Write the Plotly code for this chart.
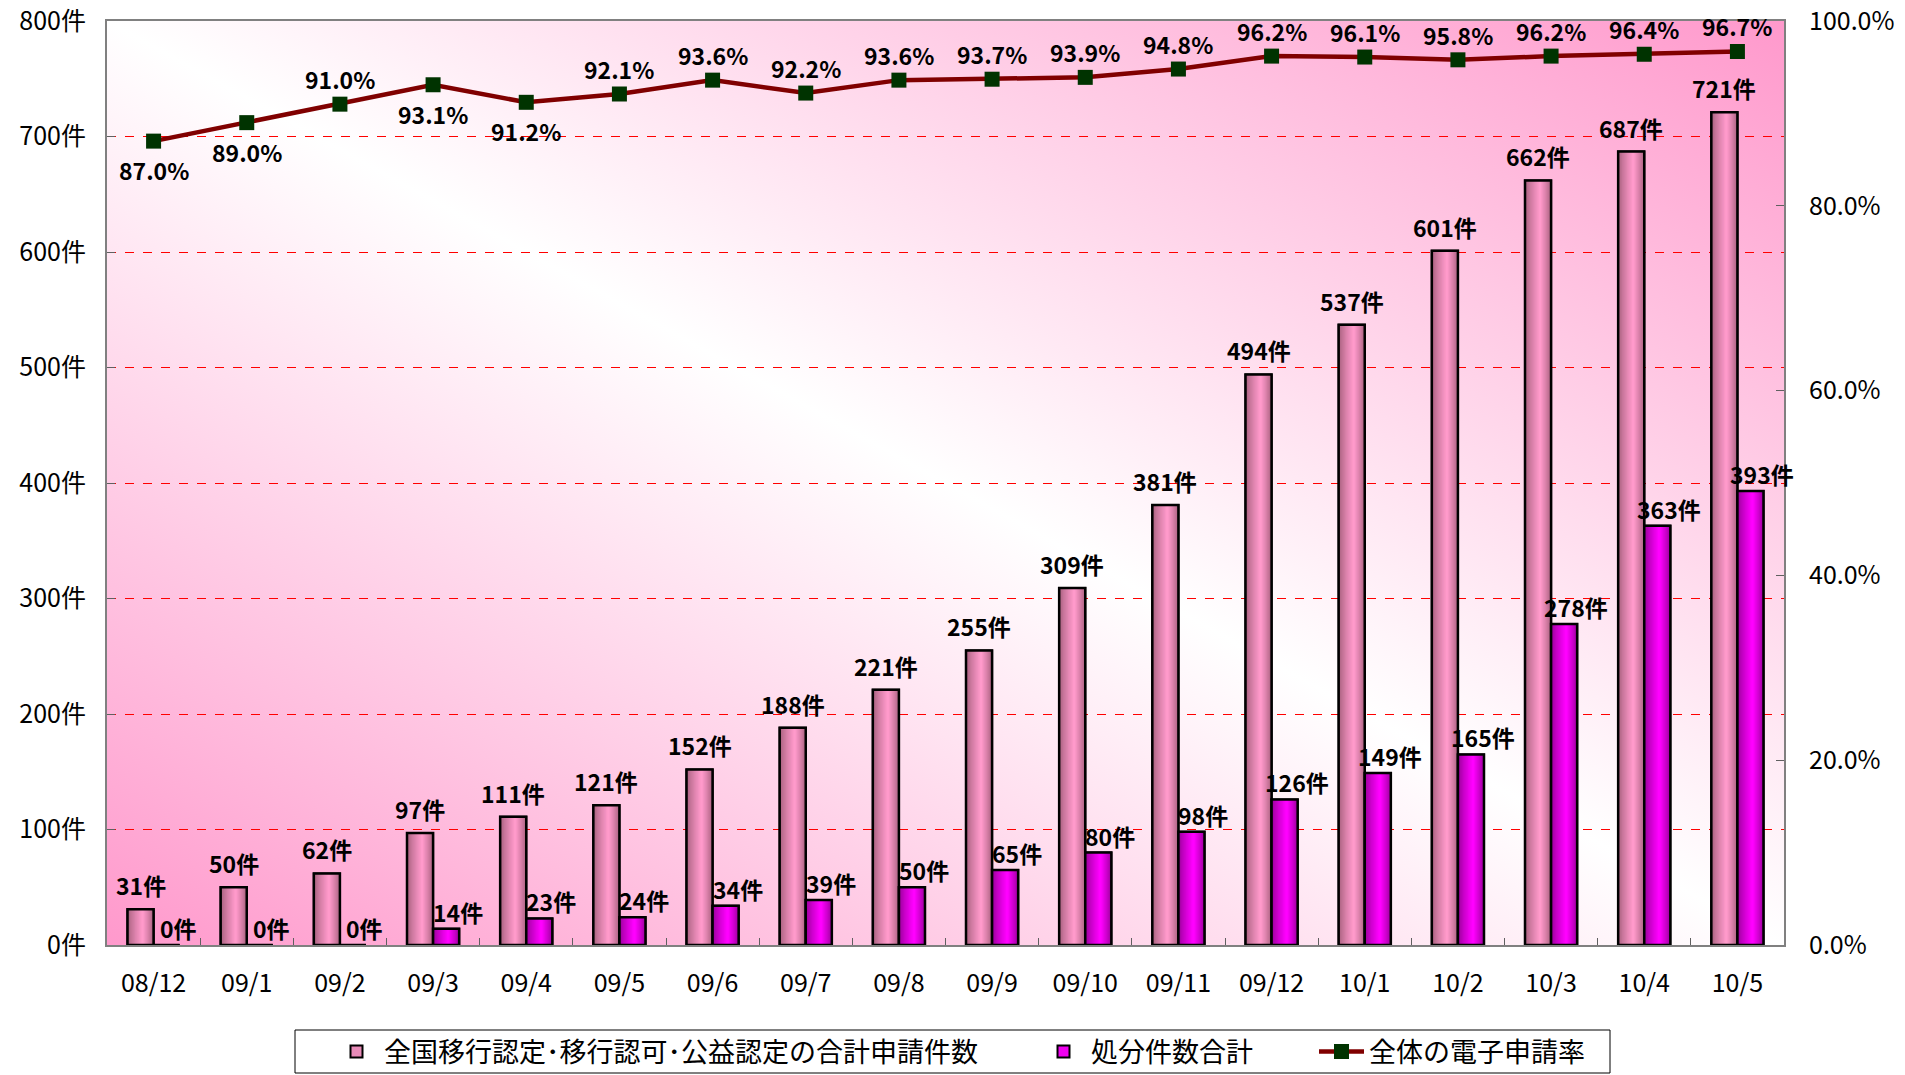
import base64
import plotly.graph_objects as go

# ---------------- data ----------------
categories = ["08/12", "09/1", "09/2", "09/3", "09/4", "09/5", "09/6", "09/7", "09/8",
              "09/9", "09/10", "09/11", "09/12", "10/1", "10/2", "10/3", "10/4", "10/5"]
applications = [31, 50, 62, 97, 111, 121, 152, 188, 221, 255, 309, 381, 494, 537, 601, 662, 687, 721]
dispositions = [0, 0, 0, 14, 23, 24, 34, 39, 50, 65, 80, 98, 126, 149, 165, 278, 363, 393]
e_rate_pct = [87.0, 89.0, 91.0, 93.1, 91.2, 92.1, 93.6, 92.2, 93.6, 93.7, 93.9, 94.8,
              96.2, 96.1, 95.8, 96.2, 96.4, 96.7]
rate_label_side = ["bottom", "bottom", "top", "bottom", "bottom"] + ["top"] * 13

name1 = "全国移行認定･移行認可･公益認定の合計申請件数"
name2 = "処分件数合計"
name3 = "全体の電子申請率"

FONT = "Noto Sans CJK JP, Noto Sans, sans-serif"
W = 0.28          # bar width in category units
N_LAYERS = 12     # layers used to imitate the cylinder shading
LABEL_SIZE = 23
TICK_SIZE = 25

FIG_W, FIG_H = 1905, 1075
M_L, M_R, M_T, M_B = 107, 121, 21, 130
PLOT_W = FIG_W - M_L - M_R
PLOT_H = FIG_H - M_T - M_B


def px_x(px):
    return (px - M_L) / PLOT_W


def px_y(py):
    return (FIG_H - M_B - py) / PLOT_H


def hex2rgb(h):
    h = h.lstrip("#")
    return tuple(int(h[i:i + 2], 16) for i in (0, 2, 4))


def lerp(c1, c2, t):
    a, b = hex2rgb(c1), hex2rgb(c2)
    return "rgb(%d,%d,%d)" % tuple(round(a[i] + (b[i] - a[i]) * t) for i in range(3))


fig = go.Figure()


def shaded_bars(values, left_off, edge, center, legend_color, name, legend_id):
    fig.add_trace(go.Bar(
        x=categories, y=values, name=name, offset=left_off, width=W,
        marker=dict(color=legend_color, line=dict(color="black", width=2)),
        showlegend=True, legend=legend_id, legendgroup=name, hoverinfo="skip"))
    peak = 0.58
    for k in range(N_LAYERS):
        t = k / N_LAYERS
        left = left_off + t * peak * W
        right = left_off + W - t * (1 - peak) * W
        col = lerp(edge, center, (k / (N_LAYERS - 1)) ** 0.8)
        fig.add_trace(go.Bar(
            x=categories, y=values, offset=left, width=right - left,
            marker=dict(color=col, line=dict(width=0)),
            showlegend=False, legendgroup=name, hoverinfo="skip"))
    fig.add_trace(go.Bar(
        x=categories, y=values, offset=left_off, width=W,
        marker=dict(color="rgba(0,0,0,0)", line=dict(color="black", width=2.5)),
        showlegend=False, legendgroup=name, hoverinfo="skip"))


shaded_bars(applications, -W, "#A8607F", "#FF9ACB", "#E88BB8", name1, "legend")
shaded_bars(dispositions, 0.0, "#9A009A", "#FF00FF", "#F000F0", name2, "legend2")

rates = [v / 100 for v in e_rate_pct]
fig.add_trace(go.Scatter(
    x=categories, y=rates, yaxis="y2", name=name3, legend="legend3",
    mode="lines+markers",
    line=dict(color="#800000", width=4.5),
    marker=dict(symbol="square", size=15, color="#003300", line=dict(color="#003300", width=0)),
    cliponaxis=False, hoverinfo="skip"))

label_font = dict(family=FONT, size=LABEL_SIZE, color="black", weight="bold")
annotations = []
for i, v in enumerate(applications):
    annotations.append(dict(x=i - W / 2, y=v, xref="x", yref="y", text="%d件" % v,
                            showarrow=False, yanchor="bottom", yshift=5, font=label_font))
for i, v in enumerate(dispositions):
    annotations.append(dict(x=i + W / 2, y=v, xref="x", yref="y", text="%d件" % v,
                            showarrow=False, yanchor="bottom", yshift=-2, xshift=12,
                            font=label_font))
for i, (v, side) in enumerate(zip(rates, rate_label_side)):
    annotations.append(dict(x=i, y=v, xref="x", yref="y2", text="%.1f%%" % (v * 100),
                            showarrow=False,
                            yanchor="bottom" if side == "top" else "top",
                            yshift=6 if side == "top" else -10,
                            font=label_font))

svg = ("<svg xmlns='http://www.w3.org/2000/svg' width='100' height='100' viewBox='0 0 100 100' "
       "preserveAspectRatio='none'><defs><linearGradient id='g' x1='0' y1='1' x2='1' y2='0'>"
       "<stop offset='0' stop-color='#FF99CC'/><stop offset='0.5' stop-color='#FFFFFF'/>"
       "<stop offset='1' stop-color='#FF99CC'/></linearGradient></defs>"
       "<rect width='100' height='100' fill='url(#g)'/></svg>")
bg_src = "data:image/svg+xml;base64," + base64.b64encode(svg.encode()).decode()

legend_common = dict(orientation="h", yanchor="middle", y=px_y(1052), xanchor="left",
                     bgcolor="rgba(0,0,0,0)", borderwidth=0,
                     font=dict(family=FONT, size=27), itemwidth=45)

fig.update_layout(
    width=FIG_W, height=FIG_H,
    margin=dict(l=M_L, r=M_R, t=M_T, b=M_B, autoexpand=False),
    paper_bgcolor="white", plot_bgcolor="white",
    barmode="overlay",
    font=dict(family=FONT, size=24, color="black"),
    images=[dict(source=bg_src, xref="paper", yref="paper", x=0, y=1, sizex=1, sizey=1,
                 xanchor="left", yanchor="top", sizing="stretch", layer="below")],
    shapes=[dict(type="rect", xref="paper", yref="paper",
                 x0=px_x(295), x1=px_x(1610), y0=px_y(1073), y1=px_y(1030),
                 line=dict(color="black", width=1), fillcolor="white", layer="below")],
    xaxis=dict(type="category", range=[-0.5, len(categories) - 0.5], automargin=False,
               showline=True, linecolor="#808080", linewidth=2, mirror=True,
               ticks="inside", tickson="boundaries", ticklen=7, tickcolor="#606060",
               tickfont=dict(family=FONT, size=TICK_SIZE), ticklabelstandoff=15,
               ticklabeloverflow="allow",
               showgrid=False, zeroline=False),
    yaxis=dict(range=[0, 800], dtick=100, ticksuffix="件", automargin=False,
               showline=True, linecolor="#808080", linewidth=2,
               ticks="inside", ticklen=8, tickcolor="#606060",
               tickfont=dict(family=FONT, size=TICK_SIZE), ticklabelstandoff=14,
               ticklabeloverflow="allow",
               showgrid=True, gridcolor="#FF0000", gridwidth=1, griddash="dash",
               zeroline=False),
    yaxis2=dict(range=[0, 1], dtick=0.2, tickformat=".1%", overlaying="y", side="right",
                automargin=False,
                showline=True, linecolor="#808080", linewidth=2,
                ticks="inside", ticklen=8, tickcolor="#606060",
                tickfont=dict(family=FONT, size=TICK_SIZE), ticklabelstandoff=18,
                ticklabeloverflow="allow",
                showgrid=False, zeroline=False),
    legend=dict(x=px_x(329), **legend_common),
    legend2=dict(x=px_x(1036), **legend_common),
    legend3=dict(x=px_x(1314), **legend_common),
    annotations=annotations,
    showlegend=True,
)

fig.write_html("out.html", config={"displayModeBar": False},
               post_script="document.body.style.margin='0';document.body.style.overflow='hidden';")
